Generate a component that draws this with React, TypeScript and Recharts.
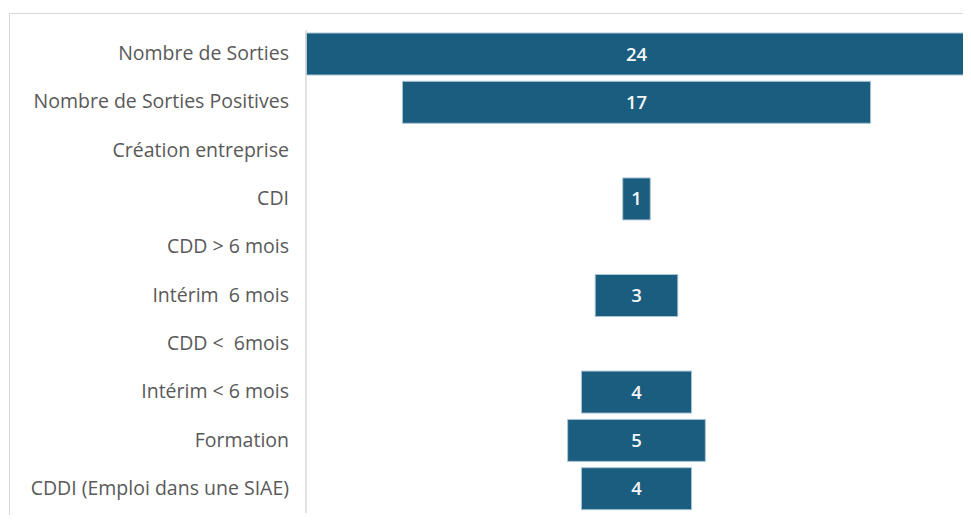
import { Bar, BarChart, LabelList, XAxis, YAxis } from "recharts";

const categories = [
  "Nombre de Sorties",
  "Nombre de Sorties Positives",
  "Création entreprise",
  "CDI",
  "CDD > 6 mois",
  "Intérim  6 mois",
  "CDD <  6mois",
  "Intérim < 6 mois",
  "Formation",
  "CDDI (Emploi dans une SIAE)",
];
const sorties = [24, 17, 0, 1, 0, 3, 0, 4, 5, 4];

const maxValue = Math.max(...sorties);

// funnel: each bar is a range centred on the middle of the axis
const data = categories.map((name, i) => ({
  name,
  value: sorties[i],
  range: [(maxValue - sorties[i]) / 2, (maxValue + sorties[i]) / 2],
}));

const FONT = "'Open Sans', sans-serif";

function CategoryTick(props: any) {
  const { x, y, payload } = props;
  return (
    <text x={x} y={y} dy={6} textAnchor="end" fill="#595959" fontSize={19.5} fontFamily={FONT} style={{ whiteSpace: "pre" }}>
      {payload.value}
    </text>
  );
}

export default function App() {
  return (
    <div style={{ position: "relative", width: 971, height: 523, margin: -8, background: "#fff", overflow: "hidden" }}>
      <div style={{ position: "absolute", left: 9, top: 13, width: 980, height: 530, border: "1px solid #d9d9d9" }} />
      <div style={{ position: "absolute", left: 0, top: 0 }}>
        <BarChart width={971} height={523} data={data} layout="vertical" margin={{ top: 30, right: 4, bottom: 10, left: 16 }}>
          <XAxis type="number" domain={[0, maxValue]} hide />
          <YAxis
            type="category"
            dataKey="name"
            width={290}
            axisLine={{ stroke: "#d9d9d9", strokeWidth: 1.5 }}
            tickLine={false}
            tickSize={0}
            tickMargin={17}
            tick={<CategoryTick />}
            interval={0}
          />
          <Bar dataKey="range" fill="#1a5d7e" stroke="#a9c6d6" strokeWidth={1} barSize={42} isAnimationActive={false}>
            <LabelList
              dataKey="value"
              position="center"
              fill="#f4f7f9"
              fontSize={18.5}
              fontFamily={FONT}
              fontWeight={600}
              formatter={(v: any) => (v ? v : "")}
            />
          </Bar>
        </BarChart>
      </div>
    </div>
  );
}
